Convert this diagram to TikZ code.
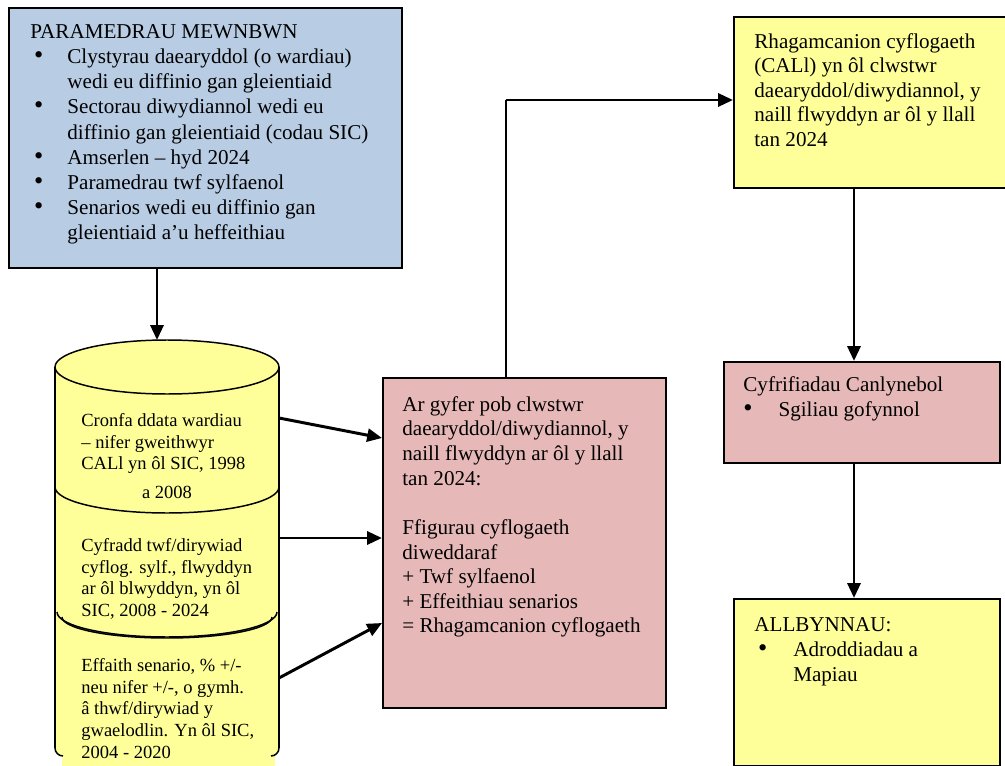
\documentclass[tikz,border=0pt]{standalone}
\usepackage{fontspec}
\setmainfont{Liberation Serif}
\usetikzlibrary{positioning, arrows.meta, calc}

\definecolor{inpblue}{RGB}{184,204,228}
\definecolor{calcpink}{RGB}{230,185,184}
\definecolor{dbyellow}{RGB}{255,255,153}

\newcommand{\bitem}{\makebox[20pt][l]{\hspace{2pt}\scalebox{1.25}{\textbullet}}}
\newcommand{\bcont}{\hspace*{20pt}}

\tikzset{
	box/.style={draw, line width=1pt, anchor=north west, inner sep=0pt},
	boxtext/.style={anchor=north west, inner sep=0pt, align=left, font=\fontsize{11.4}{13.6}\selectfont},
	dbtext/.style={anchor=north west, inner sep=0pt, align=left, font=\fontsize{10}{11.7}\selectfont},
	arr/.style={line width=1.6pt, -{Triangle[length=8pt,width=7pt]}},
}

\begin{document}
\begin{tikzpicture}[x=0.54pt, y=-0.54pt]
	\useasboundingbox (0,0) rectangle (1005,766);

	% input parameters
	\node[box, fill=inpblue, minimum width=393*0.54pt, minimum height=260*0.54pt] (inp) at (8,7) {};
	\node[boxtext] (inptext) at (30,24) {PARAMEDRAU MEWNBWN\\
		\bitem Clystyrau daearyddol (o wardiau)\\
		\bcont wedi eu diffinio gan gleientiaid\\
		\bitem Sectorau diwydiannol wedi eu\\
		\bcont diffinio gan gleientiaid (codau SIC)\\
		\bitem Amserlen -- hyd 2024\\
		\bitem Paramedrau twf sylfaenol\\
		\bitem Senarios wedi eu diffinio gan\\
		\bcont gleientiaid a'u heffeithiau};

	% database cylinder
	\fill[dbyellow] (55,367) -- (55,748) arc[start angle=180, end angle=90, radius=8] -- (271,756) arc[start angle=90, end angle=0, radius=8] -- (279,367) --cycle;
	\fill[dbyellow] (62,745) rectangle (275,766);
	\draw[line width=0.8pt] (55,748) -- (55,367) (279,367) -- (279,748);
	\draw[line width=0.8pt] (55,748) arc[start angle=180, end angle=90, radius=8];
	\draw[line width=0.8pt] (279,748) arc[start angle=0, end angle=90, radius=8];
	\draw[line width=0.8pt, fill=dbyellow] (167,367) ellipse[x radius=112, y radius=27];
	\draw[line width=0.8pt] (55,487) arc[start angle=180, end angle=0, x radius=112, y radius=26];
	\draw[line width=0.8pt] (57,612) arc[start angle=180, end angle=0, x radius=110, y radius=25];
	\draw[line width=0.8pt] (62,617) arc[start angle=180, end angle=0, x radius=105, y radius=21];
	\coordinate (cyltop) at (157,340);

	\node[dbtext] (db1) at (81,413) {Cronfa ddata wardiau\\-- nifer gweithwyr\\CALl yn ôl SIC, 1998};
	\node[anchor=base, inner sep=0pt, font=\fontsize{10}{11.7}\selectfont] (db1b) at (167,498) {a 2008};
	\node[dbtext] (db2) at (81,538) {Cyfradd twf/dirywiad\\cyflog. sylf., flwyddyn\\ar ôl blwyddyn, yn ôl\\SIC, 2008 - 2024};
	\node[dbtext] (db3) at (81,658) {Effaith senario, \% +/-\\neu nifer +/-, o gymh.\\â thwf/dirywiad y\\gwaelodlin. Yn ôl SIC,\\2004 - 2020};

	% calculation
	\node[box, fill=calcpink, minimum width=283*0.54pt, minimum height=330*0.54pt] (calc) at (382,377) {};
	\node[boxtext, font=\fontsize{11.4}{13.3}\selectfont] (calctext) at (402,396) {Ar gyfer pob clwstwr\\
		daearyddol/diwydiannol, y\\
		naill flwyddyn ar ôl y llall\\
		tan 2024:\\[13.3pt]
		Ffigurau cyflogaeth\\
		diweddaraf\\
		+ Twf sylfaenol\\
		+ Effeithiau senarios\\
		= Rhagamcanion cyflogaeth};

	% projections
	\node[box, fill=dbyellow, minimum width=290*0.54pt, minimum height=171*0.54pt] (proj) at (733,16) {};
	\node[boxtext, font=\fontsize{11.4}{13.2}\selectfont] (projtext) at (754,33) {Rhagamcanion cyflogaeth\\
		(CALl) yn ôl clwstwr\\
		daearyddol/diwydiannol, y\\
		naill flwyddyn ar ôl y llall\\
		tan 2024};

	% consequential calculations
	\node[box, fill=calcpink, minimum width=276*0.54pt, minimum height=101*0.54pt] (skills) at (723,361) {};
	\node[boxtext] (skillstext) at (743,376) {Cyfrifiadau Canlynebol\\
		\hspace*{-2pt}\bitem\hspace{1pt}Sgiliau gofynnol};

	% outputs
	\node[box, fill=dbyellow, minimum width=266*0.54pt, minimum height=167*0.54pt] (out) at (733,598) {};
	\node[boxtext] (outtext) at (754,617) {ALLBYNNAU:\\
		\bitem\hspace{1pt}Adroddiadau a\\
		\bcont\hspace{1pt}Mapiau};

	% connectors
	\coordinate (s1) at (279,418);
	\coordinate (s2) at (279,538);
	\coordinate (s3) at (279,678);
	\coordinate (t1) at (382,438);
	\coordinate (t2) at (382,538);
	\coordinate (t3) at (382,623);
	\coordinate (elbow) at (506,100);
	\coordinate (rx) at (854,0);

	\draw[arr] (inp.south -| cyltop) -- (cyltop);
	\draw[arr] (s1) -- (t1);
	\draw[arr] (s2) -- (t2);
	\draw[arr] (s3) -- (t3);
	\draw[line width=0.7pt] (elbow |- calc.north) -- (elbow);
	\draw[arr] (elbow) -- (elbow -| proj.west);
	\draw[arr] (proj.south -| rx) -- (skills.north -| rx);
	\draw[arr] (skills.south -| rx) -- (out.north -| rx);
\end{tikzpicture}
\end{document}
